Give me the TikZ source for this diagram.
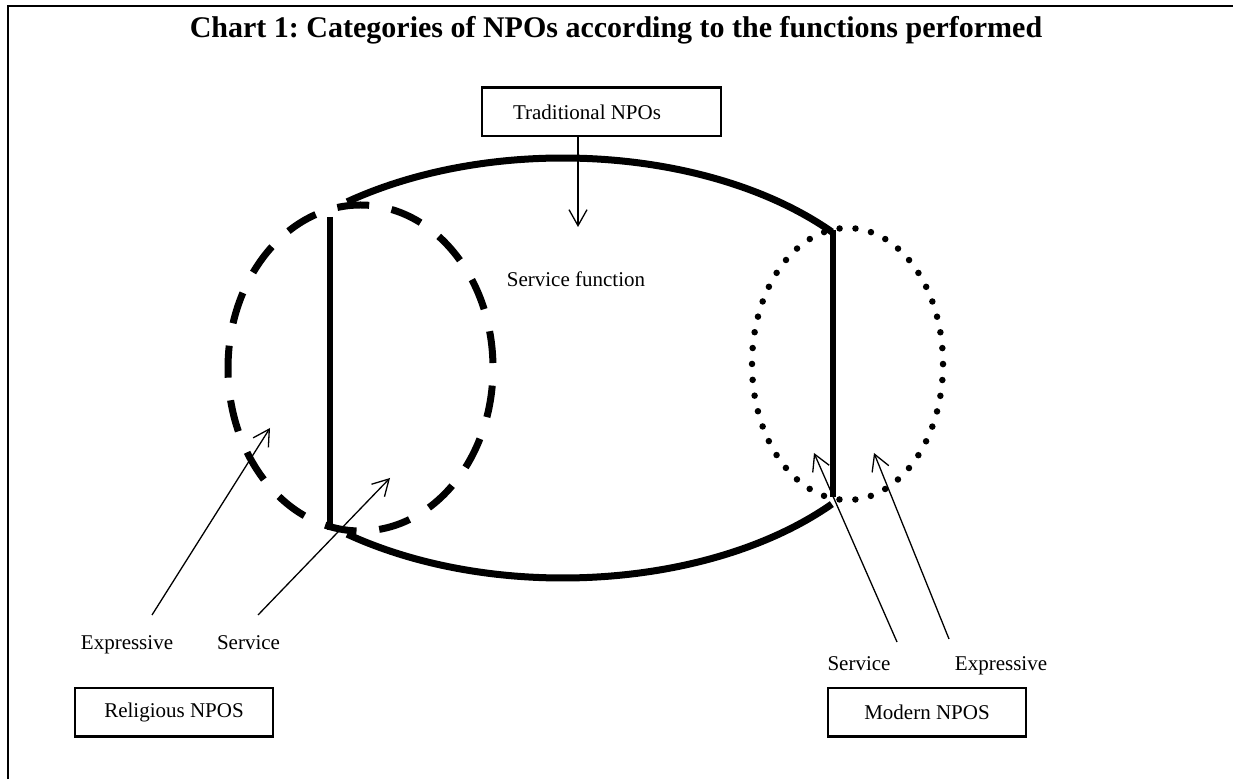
\documentclass[tikz,border=0pt]{standalone}
\usepackage{fontspec}
\setmainfont{Liberation Serif}
\usetikzlibrary{arrows.meta,calc}
\frenchspacing
\begin{document}
\begin{tikzpicture}[x=1pt,y=1pt,
  lbl/.style={font=\fontsize{21}{25}\selectfont, inner sep=0pt, anchor=base},
  boxn/.style={draw, line width=1.3pt, font=\fontsize{21}{25}\selectfont, minimum height=48pt, inner sep=0pt},
  outerline/.style={line width=7pt},
  sideline/.style={line width=6pt},
  pointer/.style={line width=1.3pt, -{Straight Barb[length=16pt,width=18pt]}},
]
\useasboundingbox (0,0) rectangle (1233,779);
% frame
\draw[line width=2pt] (7.5,0) -- (7.5,772.5) -- (1233,772.5);
% title
\node[font=\fontsize{30}{36}\selectfont\bfseries, anchor=base, inner sep=0pt] (title) at (616,741) {Chart 1: Categories of NPOs according to the functions performed};
% boxes
\node[boxn, minimum width=239pt, inner xsep=31pt] (trad) at (601.5,667) {\makebox[177pt][l]{Traditional NPOs}};
\node[boxn, minimum width=198pt] (relig) at (174,67) {Religious NPOS};
\node[boxn, minimum width=198pt] (modern) at (927,67) {Modern NPOS};
\draw[line width=2.5pt] (trad.north west) -- (trad.north east);
\draw[line width=2.5pt] (relig.south west) -- (relig.south east);
\draw[line width=2.5pt] (modern.south west) -- (modern.south east);
% outer shape
\coordinate (C) at (563,411);
\draw[outerline] ($(C)+(127.7:353 and 210)$) arc[start angle=127.7,end angle=40.4,x radius=353,y radius=210];
\draw[outerline] ($(C)+(-40.4:353 and 210)$) arc[start angle=-40.4,end angle=-127.7,x radius=353,y radius=210];
\draw[sideline] (330,562) -- (330,249);
\draw[sideline] (833,549) -- (833,282);
% dashed ellipse (religious)
\draw[line width=7pt, dash pattern=on 32pt off 22.77pt, dash phase=49.8pt] (360.5,411) ellipse[x radius=132.5, y radius=163];
% dotted ellipse (modern)
\draw[line width=6.5pt, line cap=round, dash pattern=on 0pt off 15.93pt] (847.5,415) ellipse[x radius=95.5, y radius=136];
% texts
\node[lbl] (svcfun) at (576,492) {Service function};
\node[lbl] (exL) at (127,130) {Expressive};
\node[lbl] (svL) at (248.5,130) {Service};
\node[lbl] (svR) at (859,109) {Service};
\node[lbl] (exR) at (1001,109) {Expressive};
% arrows
\coordinate (tradtip) at (578,552);
\draw[pointer] (trad.south -| tradtip) -- (tradtip);
\coordinate (exLs) at (152,164); \coordinate (exLt) at (270,351);
\coordinate (svLs) at (258,164); \coordinate (svLt) at (390,301);
\coordinate (svRs) at (897,137); \coordinate (svRt) at (814,326);
\coordinate (exRs) at (949,140); \coordinate (exRt) at (874,326);
\draw[pointer] (exLs) -- (exLt);
\draw[pointer] (svLs) -- (svLt);
\draw[pointer] (svRs) -- (svRt);
\draw[pointer] (exRs) -- (exRt);
\end{tikzpicture}
\end{document}
